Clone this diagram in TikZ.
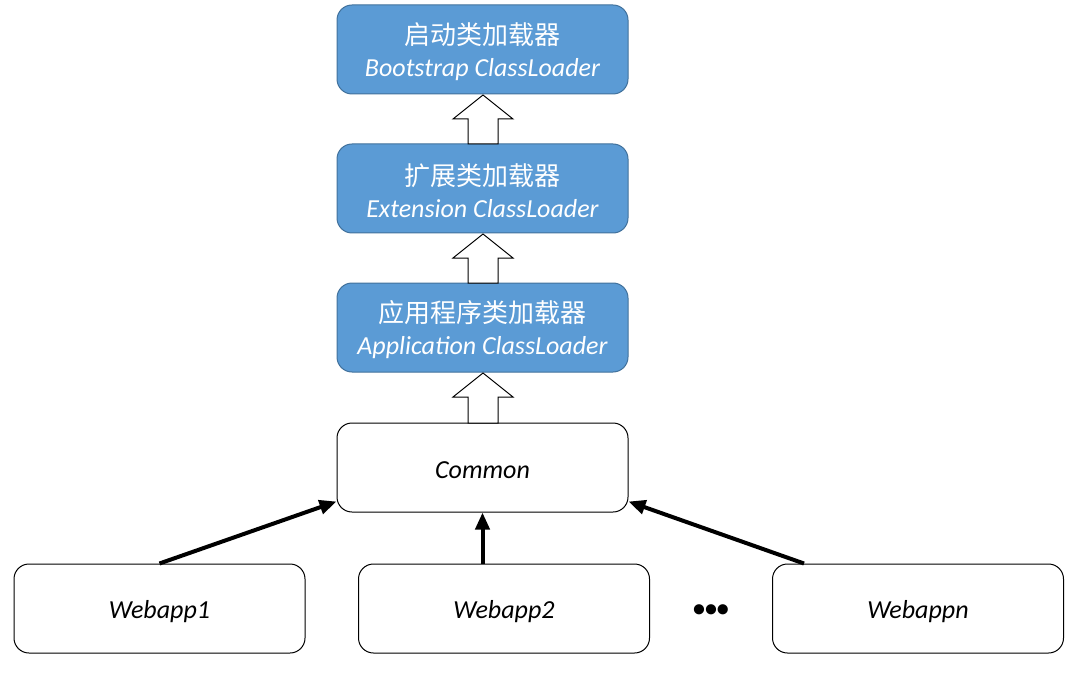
\documentclass[tikz,border=0pt]{standalone}
\usepackage{fontspec}
\setmainfont{Carlito}
\newfontfamily\cjk{Noto Sans CJK SC}
\usetikzlibrary{calc,arrows.meta}
\definecolor{boxblue}{HTML}{5B9BD5}
\definecolor{boxedge}{HTML}{41719C}
\tikzset{
  x=1pt,y=-1pt,
  bluebox/.style={draw=boxedge, line width=1pt, fill=boxblue, rounded corners=15pt,
    minimum width=291pt, minimum height=89pt, inner sep=0pt},
  whitebox/.style={draw=black, line width=1pt, fill=white, rounded corners=15pt,
    minimum width=291pt, minimum height=89pt, inner sep=0pt},
  bluetext/.style={text=white, align=center, font=\fontsize{26}{32}\selectfont, inner sep=0pt},
  whitetext/.style={align=center, font=\fontsize{26}{32}\selectfont\itshape, inner sep=0pt},
  blockarrow/.style={draw=black, line width=1pt, fill=white},
  conn/.style={line width=4pt, -{Triangle[length=17pt,width=14pt]}},
}
\newcommand{\uparr}[2]{% #1 = top y, #2 = bottom y
  \draw[blockarrow] (483,#1) -- (513,#1+24) -- (498,#1+24) -- (498,#2) -- (468,#2) -- (468,#1+24) -- (453,#1+24) -- cycle;}
\begin{document}
\begin{tikzpicture}
\useasboundingbox (0,0) rectangle (1083,676);
\node[bluebox] (boot) at (482.5,49.5) {};
\node[bluebox] (ext) at (482.5,188.5) {};
\node[bluebox] (app) at (482.5,327.5) {};
\node[whitebox] (common) at (482.5,467.5) {};
\node[whitebox] (w1) at (159.5,608.5) {};
\node[whitebox] (w2) at (504,608.5) {};
\node[whitebox] (wn) at (918,608.5) {};
\node[bluetext] (bootT) at ([yshift=-2pt]boot.center) {{\cjk 启动类加载器}\\\itshape Bootstrap ClassLoader};
\node[bluetext] (extT) at ([yshift=-2pt]ext.center) {{\cjk 扩展类加载器}\\\itshape Extension ClassLoader};
\node[bluetext] (appT) at ([yshift=-2pt]app.center) {{\cjk 应用程序类加载器}\\\itshape Application ClassLoader};
\node[whitetext] (commonT) at ([yshift=-3pt]common.center) {Common};
\node[whitetext] (w1T) at ([yshift=-3pt]w1.center) {Webapp1};
\node[whitetext] (w2T) at ([yshift=-3pt]w2.center) {Webapp2};
\node[whitetext] (wnT) at ([yshift=-3pt]wn.center) {Webappn};
\node[font=\fontsize{24}{24}\selectfont\bfseries] (dots) at (711,611) {•••};
\uparr{95}{144}
\uparr{234}{283}
\uparr{373}{423}
\draw[conn] (w1.north) -- ($(common.south west)+(0,-11)$);
\draw[conn] (w2.north -| common.south) -- (common.south);
\draw[conn] ($(wn.north west)+(32,0)$) -- ($(common.south east)+(0,-11)$);
\end{tikzpicture}
\end{document}
